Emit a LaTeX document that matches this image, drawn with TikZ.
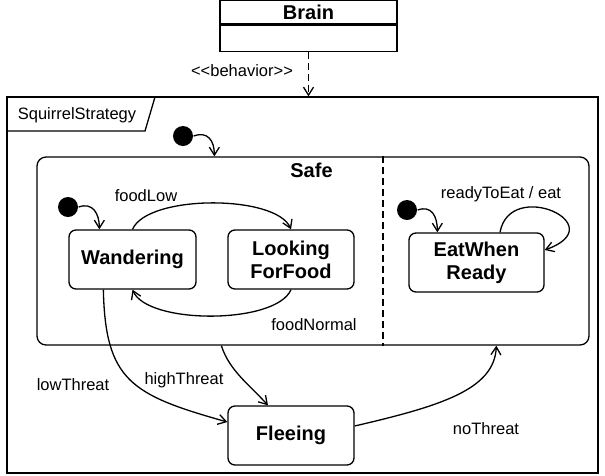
\documentclass[tikz,border=0pt]{standalone}
\usepackage{fontspec}
\setmainfont{Liberation Sans}
\usetikzlibrary{arrows.meta}

\begin{document}
\begin{tikzpicture}[x=1pt, y=-1pt, line width=1.3pt,
    state/.style={draw, rounded corners=7pt, align=center, minimum height=59pt, font=\fontsize{20}{23}\selectfont\bfseries},
    lbl/.style={font=\fontsize{16.5}{19}\selectfont},
    initial/.style={circle, fill, inner sep=0pt, minimum size=20pt},
    >={Straight Barb[length=8pt, width=10pt]}]
            \useasboundingbox (0,0) rectangle (605,475);

            \node[draw, minimum width=177pt, minimum height=24pt, font=\fontsize{20}{23}\selectfont\bfseries] (brain) at (308.5,12) {Brain};
            \node[draw, minimum width=177pt, minimum height=26pt, anchor=north] (brainbody) at (brain.south) {};
            \node[lbl] (behavior) at (242,71) {<{}<behavior>{}>};

            \node[draw, minimum width=591pt, minimum height=376pt] (strategy) at (302.5,285) {};
            \draw (7,97) -- (155,97) -- (145,131) -- (7,131);
            \node[lbl] (strategylabel) at (77,115) {SquirrelStrategy};

            \node[draw, rounded corners=9pt, minimum width=552pt, minimum height=188pt] (safe) at (313,251) {};
            \node[font=\fontsize{20}{23}\selectfont\bfseries] (safelabel) at (311.5,170) {Safe};
            \draw[dash pattern=on 7pt off 4pt] ([xshift=70pt]safe.north) -- ([xshift=70pt]safe.south);

            \node[initial] (initsafe) at (183,136) {};
            \node[initial] (initwander) at (68,207) {};
            \node[initial] (initeat) at (407,210) {};

            \node[state, minimum width=127pt] (wandering) at (132.5,259.5) {Wandering};
            \node[state, minimum width=126pt] (looking) at (291,259.5) {Looking\\ForFood};
            \node[state, minimum width=135pt] (eat) at (476.5,262.5) {EatWhen\\Ready};
            \node[state, minimum width=126pt] (fleeing) at (291,435.5) {Fleeing};

            \node[lbl] (foodlow) at (146,196) {foodLow};
            \node[lbl] (foodnormal) at (314,325) {foodNormal};
            \node[lbl] (readytoeat) at (501,194) {readyToEat / eat};
            \node[lbl] (lowthreat) at (73,385) {lowThreat};
            \node[lbl] (highthreat) at (184,380) {highThreat};
            \node[lbl] (nothreat) at (486,429) {noThreat};

            \draw[->, dash pattern=on 7pt off 4pt] (brainbody.south) -- (brainbody.south |- strategy.north);

            \draw[->] (initsafe.east) .. controls +(14,-5) and +(0,-16) .. ([xshift=178pt]safe.north west);
            \draw[->] (initwander.east) .. controls +(14,-5) and +(0,-16) .. ([xshift=31pt]wandering.north west);
            \draw[->] (initeat.east) .. controls +(14,-5) and +(0,-16) .. ([xshift=29pt]eat.north west);

            \draw[->] (wandering.north) .. controls +(15,-35) and +(-15,-35) .. (looking.north);
            \draw[->] (looking.south) .. controls +(-15,35) and +(15,35) .. (wandering.south);
            \draw[->] ([xshift=23.5pt]eat.north) .. controls +(10,-55) and +(70,-25) .. ([yshift=12.5pt]eat.east);

            \draw[->] ([xshift=35pt]wandering.south west) .. controls +(2,91) and +(-96,-27) .. ([yshift=13.5pt]fleeing.west);
            \draw[->] ([xshift=185pt]safe.south west) .. controls +(8,25) and +(-18,-20) .. ([xshift=-23pt]fleeing.north);
            \draw[->] ([yshift=9.5pt]fleeing.east) .. controls +(86,-20) and +(-2,44) .. ([xshift=460pt]safe.south west);
        \end{tikzpicture}
\end{document}
